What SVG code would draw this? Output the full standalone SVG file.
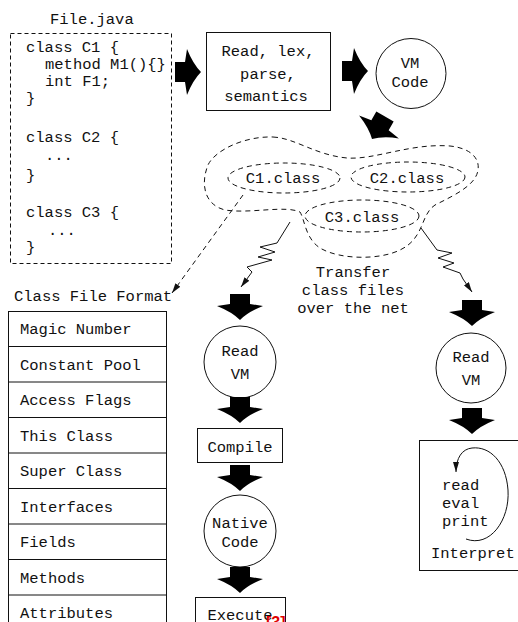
<svg xmlns="http://www.w3.org/2000/svg" width="518" height="622" viewBox="0 0 518 622">
<style>
text{font-family:"Liberation Mono","DejaVu Sans Mono",monospace;font-size:15.5px;fill:#111}
.c{text-anchor:middle}
.box{fill:#fff;stroke:#111;stroke-width:1}
.dash{fill:none;stroke:#111;stroke-width:1;stroke-dasharray:5 4}
.ln{fill:none;stroke:#111;stroke-width:1}
.fat{fill:#000}
</style>
<defs>
<path id="fat" d="M -10,-26 H 10 V -16 L 23,-14 Q 8,-8 0,0 Q -8,-8 -23,-14 L -10,-16 Z"/>
<marker id="ah" viewBox="0 0 10 6" refX="10" refY="3" markerWidth="10" markerHeight="6" orient="auto" markerUnits="userSpaceOnUse"><path d="M0,0 L10,3 L0,6 Z" fill="#111"/></marker>
</defs>

<g id="file-java">
<text x="50" y="24">File.java</text>
<rect x="10.5" y="33.5" width="161" height="230" class="dash" style="stroke-dasharray:4 3"/>
<text x="26" y="52">class C1 {</text>
<text x="45" y="69">method M1(){}</text>
<text x="45" y="86">int F1;</text>
<text x="26" y="103">}</text>
<text x="26" y="142">class C2 {</text>
<text x="45" y="160">...</text>
<text x="26" y="180">}</text>
<text x="26" y="217">class C3 {</text>
<text x="48" y="235">...</text>
<text x="26" y="252">}</text>
</g>

<g id="read-lex">
<rect x="206.5" y="32.5" width="124" height="78" class="box"/>
<text x="268" y="56" class="c">Read, lex,</text>
<text x="268" y="79" class="c">parse,</text>
<text x="266" y="101" class="c">semantics</text>
</g>

<g id="vm-code">
<circle cx="411" cy="73.5" r="35" class="box"/>
<text x="410" y="68" class="c">VM</text>
<text x="410" y="87" class="c">Code</text>
</g>

<g id="cloud">
<path class="dash" d="M 273,137 C 295,138 315,155 347,158 C 375,160 410,143 450,146 C 470,148 480,158 478,170 C 476,185 455,195 435,205 C 420,215 425,238 400,250 C 380,260 340,260 320,248 C 305,238 305,220 300,212 C 285,205 250,214 225,210 C 205,205 200,185 208,165 C 215,150 245,136 273,137 Z"/>
</g>
<g id="c1-class">
<ellipse cx="284" cy="178" rx="56" ry="15" class="dash"/>
<text x="283" y="183" class="c">C1.class</text>
</g>
<g id="c2-class">
<ellipse cx="408" cy="177" rx="57" ry="15" class="dash"/>
<text x="407" y="183" class="c">C2.class</text>
</g>
<g id="c3-class">
<ellipse cx="362" cy="216" rx="57" ry="16" class="dash"/>
<text x="362" y="222" class="c">C3.class</text>
</g>

<g id="transfer-label">
<text x="353" y="277" class="c">Transfer</text>
<text x="353" y="295" class="c">class files</text>
<text x="353" y="313" class="c">over the net</text>
</g>

<g id="class-file-format">
<text x="14" y="301">Class File Format</text>
<rect x="8.5" y="311.5" width="158" height="320" class="box"/>
<path class="ln" d="M8.5,346.5 H166.5 M8.5,382 H166.5 M8.5,417.5 H166.5 M8.5,453 H166.5 M8.5,488.5 H166.5 M8.5,524 H166.5 M8.5,559.5 H166.5 M8.5,595 H166.5"/>
<text x="20" y="334">Magic Number</text>
<text x="20" y="370">Constant Pool</text>
<text x="20" y="405">Access Flags</text>
<text x="20" y="441">This Class</text>
<text x="20" y="476">Super Class</text>
<text x="20" y="512">Interfaces</text>
<text x="20" y="547">Fields</text>
<text x="20" y="583">Methods</text>
<text x="20" y="618">Attributes</text>
</g>

<g id="read-vm-left">
<circle cx="240" cy="362" r="36" class="box"/>
<text x="240" y="356" class="c">Read</text>
<text x="240" y="379" class="c">VM</text>
</g>
<g id="compile">
<rect x="197.5" y="428.5" width="85" height="34" class="box"/>
<text x="240" y="452" class="c">Compile</text>
</g>
<g id="native-code">
<circle cx="240" cy="531" r="36" class="box"/>
<text x="240" y="528" class="c">Native</text>
<text x="240" y="547" class="c">Code</text>
</g>
<g id="execute">
<rect x="195.5" y="597.5" width="90" height="40" class="box"/>
<text x="240" y="620" class="c">Execute</text>
<text x="266" y="628" style="font-family:'Liberation Sans',Arial,sans-serif;font-size:16px;font-weight:bold;fill:#e00000">[3]</text>
</g>

<g id="read-vm-right">
<circle cx="471" cy="368" r="35" class="box"/>
<text x="471" y="362" class="c">Read</text>
<text x="471" y="385" class="c">VM</text>
</g>
<g id="interpret">
<rect x="419.5" y="440.5" width="110" height="130" class="box"/>
<text x="442" y="490">read</text>
<text x="442" y="508">eval</text>
<text x="442" y="526">print</text>
<text x="431" y="558">Interpret</text>
<path class="ln" marker-end="url(#ah)" d="M 466,539 C 490,548 510,520 508,490 C 506,462 490,446 472,448 C 462,449 456,458 456,472"/>
</g>

<g id="connectors">
<use href="#fat" class="fat" transform="translate(201,72) rotate(-90)"/>
<use href="#fat" class="fat" transform="translate(368,71) rotate(-90)"/>
<use href="#fat" class="fat" transform="translate(372,139) rotate(30)"/>
<use href="#fat" class="fat" transform="translate(240,320)"/>
<use href="#fat" class="fat" transform="translate(240,423)"/>
<use href="#fat" class="fat" transform="translate(240,491)"/>
<use href="#fat" class="fat" transform="translate(240,593)"/>
<use href="#fat" class="fat" transform="translate(472,326)"/>
<use href="#fat" class="fat" transform="translate(472,434)"/>
<path class="ln" style="stroke-dasharray:5 4" marker-end="url(#ah)" d="M 243,195 L 172,293"/>
<path class="ln" marker-end="url(#ah)" d="M 290,222 L 277,243 L 260,247 L 275,252 L 258,257 L 272,260 L 247,267 L 252,272 L 241,287"/>
<path class="ln" marker-end="url(#ah)" d="M 421,228 L 437,250 L 452,253 L 438,258 L 454,263 L 443,267 L 460,273 L 463,279 L 472,292"/>
</g>
</svg>
